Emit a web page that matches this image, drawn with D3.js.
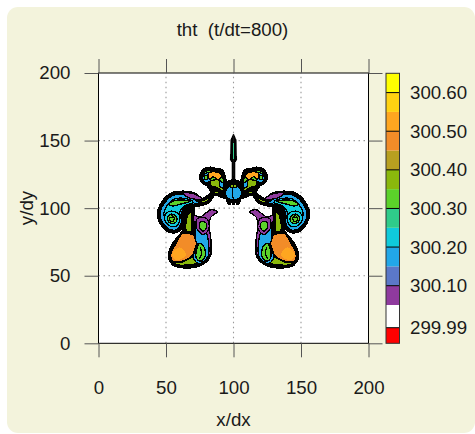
<!DOCTYPE html>
<html><head><meta charset="utf-8">
<script src="https://cdn.jsdelivr.net/npm/d3@7"></script>
<style>html,body{margin:0;padding:0;background:#fff}svg{display:block}text{font-family:"Liberation Sans",Arial,sans-serif;fill:#1a1a1a}</style>
</head><body><script>
const titleText = "tht  (t/dt=800)";
const xLabel = "x/dx", yLabel = "y/dy";
const xTicks = [0,50,100,150,200];
const yTicks = [0,50,100,150,200];
const gridTicks = [50,100,150];
const levelEdges = [299.99,300.05,300.10,300.15,300.20,300.25,300.30,300.35,300.40,300.45,300.50,300.55,300.60];
const levelColors = ["#ff0000","#ffffff","#8f3a9e","#5b78c8","#22a7e8","#0fcadb","#2fcb8a","#5bd22a","#8ab80c","#b8a020","#f28c28","#ffa620","#ffd211","#ffff00"];
const labelLevels = [299.99,300.10,300.20,300.30,300.40,300.50,300.60];

// Contour outlines of the left half, in x/dx, y/dy; the field is mirrored about x=100.
const spire = [[99.9,154.6],[98,150.4],[97.7,135.6],[99,133.8],[99,119.5],[100,119.5]];
const spireCore = [[100,148],[99.5,145],[99.5,138],[100,136.5]];
const topLobe = [[94.4,115.8],[93.5,123.2],[91.3,128.2],[87.1,128.9],[83.1,129.9],[78.2,128.6],[75.4,123.2],[76.9,119],[80.9,116.6],[83.3,113.3],[88.8,114.6],[94.4,110.9]];
const topBody = [[92.5,116.9],[92,123.2],[90,126.4],[86.3,127.4],[83.1,128.2],[78.9,126.9],[76.7,123.2],[78.2,120],[82.1,118],[84.6,115],[88.8,116.6],[92.5,113.3]];
const topOrange = [[81.4,125.7],[86.3,126.9],[91.2,124.5],[88.8,120.8],[85.1,123.2],[82.1,121.5]];
const topRing = [[77.7,124.5],[81.4,126.2],[83.1,120.8],[80.1,118.8],[77.5,120.8]];
const topDisc = [[78.8,124],[80.6,124],[81.2,122.5],[80.1,121],[78.5,121.7]];
const topGreen = [[82.6,119.5],[88.8,120.8],[93,116.5],[92,113],[87.1,115.5],[83.8,116]];
const topBlue = [[90,119.5],[92.7,118],[92,115],[90,116.2]];
const hub = [[100,120],[95.4,119],[93,114.6],[94.4,108.4],[96.9,103.2],[98.9,105.7],[100.2,103.2]];
const hubBlue = [[100,116.5],[96.2,115.5],[94,110.9],[97,106.6],[100,107]];
const hubGreen = [[97.4,117.5],[100,117.5],[100,115.3],[98,115.3]];
const arm = [[93.7,110.9],[86.3,114.1],[81.4,109.2],[76.4,106.7],[71.5,110.6],[62.8,112.1],[54.2,110.9],[47.5,104.7],[44.1,96],[46.1,88.7],[51.7,83],[57.9,82.5],[62.3,87.4],[62.8,96],[67.8,101],[75.2,102.2],[81.4,104.2],[86.3,110.1],[93.7,107.7]];
const armGreen = [[92.5,109.6],[86.5,112.4],[81.5,107.6],[76,105.2],[72,106],[76,103.8],[81,105.4],[86,111]];
const armPurple = [[77,106.5],[71.5,110.4],[62.8,111.2],[66,108],[72,106.6]];
const spiralOuter = [[71.5,109],[62.8,110.4],[55,109.3],[48.8,103.8],[45.6,96],[47.3,89.5],[52.4,84.4],[57.5,84],[61,87.9],[61.5,96.8],[66.7,102.4],[75.2,103.6]];
const spiralInner = [[67,106.5],[57,107],[51.4,102.6],[48.4,96],[50,90.5],[53.6,87],[57.2,86.6],[59.4,88.6],[59.8,96.8],[64,101.8],[70,104.2]];
const streak = [[52,102.8],[56.7,105.7],[64.1,105.9],[68.6,105.2],[61.6,103.2],[55.4,101.6]];
const swirlRing = [[54.2,97.8],[59.4,95.6],[60.2,91.1],[57.2,86.6],[51.9,87.3],[49,91.9],[50.4,96.4]];
const swirlGreen = [[54.2,95.6],[57.4,94],[58,90.6],[55.4,88.6],[52.2,89.7],[51,93.1]];
const swirlLine = [[54.2,94.8],[56.2,92.4],[54.7,89.9],[52.5,91.2],[53.2,93.3],[54.7,92.6]];
const lowerLobe = [[65.3,101],[70.2,102.2],[70.7,91.1],[77.7,86.2],[82.6,75.1],[82.1,63.9],[75.2,57.8],[62.8,56.3],[55.4,58.3],[52.2,65.2],[55.4,73.8],[62.8,83.7],[64.1,92.4]];
const neck = [[66.8,96],[68.6,96.5],[69,88],[68.6,82.5],[65,83.5]];
const lowerOrange = [[62,81],[68,81],[73,77],[71.5,70],[69,64.5],[62,60.8],[55,60.5],[53.6,66],[57.5,74]];
const lowerLight = [[54.7,66.4],[60.4,71],[65,65],[57,61.5]];
const lowerStrip = [[56,60],[62,60],[68,63],[71.5,63.5],[73,59.5],[62.8,57.8],[57,58.5]];
const purpleCap = [[70.2,94.3],[75.9,93.8],[83.1,98.8],[88,97.3],[83.3,93.4],[81.9,87.4],[83.3,76.3],[82.3,65.2],[79.5,75],[78.2,85],[72.2,87.4]];
const band = [[72.7,86.2],[78.9,83.7],[81.4,75.1],[80.9,63.9],[74,59],[70.2,63.9],[73.2,72.6],[71.5,77.5]];
const bandGreen = [[74.7,73.8],[78.1,71.4],[78.9,63.9],[75.2,60.7],[72.2,63.9]];
const bandLine = [[75.4,71],[76.4,66.5],[74.8,62.5]];
const capRing = [[73.2,92.4],[80.1,92.4],[81.9,85],[77.7,80.5],[72.7,85]];
const capDisc = [[75.7,89.9],[79.4,89.4],[80.1,85.5],[77.2,83],[74.7,86.2]];

const packed = [spire, topLobe, hub, arm, lowerLobe];
const filled = [
  [topBody,300.33],[topRing,300.18],[topOrange,300.52],[topGreen,300.37],[topBlue,300.18],[topDisc,300.33],
  [hubBlue,300.18],[hubGreen,300.37],
  [spiralOuter,300.18],[spiralInner,300.22],[streak,300.33],[swirlRing,300.22],[swirlGreen,300.33],
  [armGreen,300.37],[armPurple,300.08],
  [purpleCap,300.08],[neck,300.37],[lowerOrange,300.47],[lowerStrip,300.36],
  [band,300.18],[bandGreen,300.33],[capRing,300.08],[capDisc,300.33]
];
const unlined = [[lowerLight,300.52]];
const looseLines = [swirlLine, bandLine];

const W=475,H=434,FS=18.7;
const svg=d3.select("body").append("svg").attr("width",W).attr("height",H);
svg.append("rect").attr("x",7).attr("y",7).attr("width",468).attr("height",426).attr("rx",11).attr("fill","#f3f3dc");

const x=d3.scaleLinear().domain([0,200]).range([98.5,368.5]);
const y=d3.scaleLinear().domain([0,200]).range([343.3,73]);
const color=d3.scaleThreshold().domain(levelEdges).range(levelColors);

svg.append("rect").attr("x",x(0)).attr("y",y(200)).attr("width",x(200)-x(0)).attr("height",y(0)-y(200)).attr("fill","#fff");

const grid=svg.append("g").attr("stroke","#999").attr("stroke-width",1.1).attr("stroke-dasharray","1.5 3.5");
grid.selectAll(".gx").data(gridTicks).join("line").attr("x1",d=>x(d)).attr("x2",d=>x(d)).attr("y1",y(0)).attr("y2",y(200));
grid.selectAll(".gy").data(gridTicks).join("line").attr("y1",d=>y(d)).attr("y2",d=>y(d)).attr("x1",x(0)).attr("x2",x(200));

const closed=d3.line().x(d=>x(d[0])).y(d=>y(d[1])).curve(d3.curveCatmullRomClosed.alpha(0.5));
const sharp=d3.line().x(d=>x(d[0])).y(d=>y(d[1])).curve(d3.curveLinearClosed);
const open=d3.line().x(d=>x(d[0])).y(d=>y(d[1])).curve(d3.curveCatmullRom.alpha(0.5));
const mirror=p=>p.map(d=>[200-d[0],d[1]]);
const sides=p=>[p,mirror(p)];

const field=svg.append("g").attr("shape-rendering","crispEdges");
packed.forEach(p=>sides(p).forEach(q=>{
  field.append("path").attr("d",(p===spire?sharp:closed)(q)).attr("fill","#000").attr("stroke","#000").attr("stroke-width",p===spire?0.8:2.6).attr("stroke-linejoin","round");
}));
filled.forEach(([p,v])=>sides(p).forEach(q=>{
  field.append("path").attr("d",closed(q)).attr("fill",color(v)).attr("stroke","#000").attr("stroke-width",1.3);
}));
unlined.forEach(([p,v])=>sides(p).forEach(q=>{
  field.append("path").attr("d",closed(q)).attr("fill",color(v));
}));
looseLines.forEach(p=>sides(p).forEach(q=>field.append("path").attr("d",open(q)).attr("fill","none").attr("stroke","#000").attr("stroke-width",1.4)));
field.append("path").attr("d",sharp(spireCore)).attr("fill",color(300.27));
field.append("path").attr("d",sharp(mirror(spireCore))).attr("fill",color(300.22));

svg.append("rect").attr("x",x(0)).attr("y",y(200)).attr("width",x(200)-x(0)).attr("height",y(0)-y(200)).attr("fill","none").attr("stroke","#000").attr("stroke-width",1);
const styleAxis=g=>{g.select(".domain").remove();g.selectAll("line").attr("stroke","#555");g.selectAll("text").attr("font-size",FS).attr("fill","#1a1a1a").attr("font-family","Liberation Sans");};
svg.append("g").attr("transform",`translate(0,${y(0)})`).call(d3.axisBottom(x).tickValues(xTicks).tickSize(14).tickPadding(23)).call(styleAxis);
svg.append("g").attr("transform",`translate(${x(0)},0)`).call(d3.axisLeft(y).tickValues(yTicks).tickSize(14).tickPadding(14)).call(styleAxis);
svg.append("g").attr("transform",`translate(0,${y(200)})`).call(d3.axisTop(x).tickValues(xTicks).tickSize(14).tickFormat("")).call(styleAxis);
svg.append("g").attr("transform",`translate(${x(200)},0)`).call(d3.axisRight(y).tickValues(yTicks).tickSize(14).tickFormat("")).call(styleAxis);

svg.append("text").attr("x",232.5).attr("y",36).attr("text-anchor","middle").attr("font-size",FS).style("white-space","pre").text(titleText);
svg.append("text").attr("x",233.5).attr("y",426).attr("text-anchor","middle").attr("font-size",FS).text(xLabel);
svg.append("text").attr("transform","translate(33,208) rotate(-90)").attr("text-anchor","middle").attr("font-size",FS).text(yLabel);

const bar=d3.scaleLinear().domain([299.95,299.99,300.05,300.65]).range([343.3,327.7,305,73.3]);
const barEdges=[299.95,...levelEdges,300.65];
const cb=svg.append("g");
cb.selectAll("rect").data(levelColors).join("rect").attr("x",386).attr("width",13.5)
  .attr("y",(d,i)=>bar(barEdges[i+1])).attr("height",(d,i)=>bar(barEdges[i])-bar(barEdges[i+1])).attr("fill",d=>d);
cb.selectAll("line").data(labelLevels).join("line").attr("x1",386).attr("x2",399.5).attr("y1",d=>bar(d)).attr("y2",d=>bar(d)).attr("stroke","#000");
cb.append("rect").attr("x",386).attr("y",bar(300.65)).attr("width",13.5).attr("height",bar(299.95)-bar(300.65)).attr("fill","none").attr("stroke","#333");
cb.selectAll("text").data(labelLevels).join("text").attr("x",410).attr("y",d=>bar(d)).attr("dy","0.35em").attr("font-size",FS).text(d=>d.toFixed(2));
</script></body></html>
